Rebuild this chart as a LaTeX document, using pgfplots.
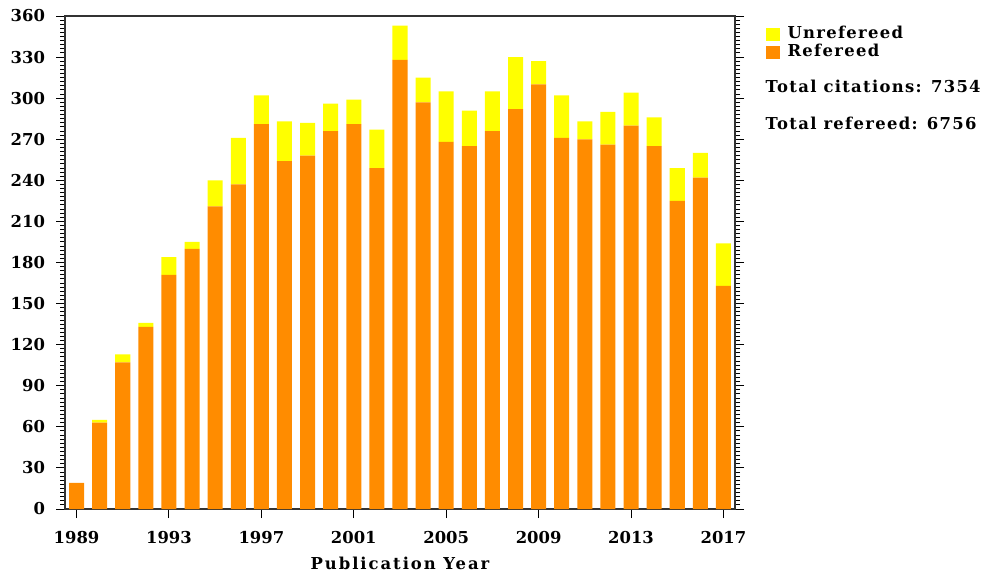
\documentclass[border=0pt]{standalone}
\usepackage{fontspec}
\setmainfont{DejaVu Serif}
\newfontfamily\spacedA[LetterSpace=8]{DejaVu Serif}
\newfontfamily\spacedB[LetterSpace=12]{DejaVu Serif}
\usepackage{pgfplots}
\usepackage{pgfplotstable}
\pgfplotsset{compat=1.18}
\definecolor{refc}{HTML}{FF8C00}
\definecolor{unrefc}{HTML}{FFFF00}
\definecolor{axgray}{HTML}{333333}
\newcommand\lf{\fontsize{8.2}{10}\selectfont\bfseries}
\newcommand\lfa{\spacedA\fontsize{8.2}{10}\selectfont\bfseries}
\newcommand\lfb{\spacedB\fontsize{8.2}{10}\selectfont\bfseries}

\pgfplotstableread{
year ref unref
1989 19 0
1990 63 2
1991 107 6
1992 133 3
1993 171 13
1994 190 5
1995 221 19
1996 237 34
1997 281 21
1998 254 29
1999 258 24
2000 276 20
2001 281 18
2002 249 28
2003 328 25
2004 297 18
2005 268 37
2006 265 26
2007 276 29
2008 292 38
2009 310 17
2010 271 31
2011 270 13
2012 266 24
2013 280 24
2014 265 21
2015 225 24
2016 242 18
2017 163 31
}\citedata

\begin{document}
\begin{tikzpicture}
\begin{axis}[
  at={(0,0)}, anchor=south west,
  scale only axis, width=335pt, height=246.5pt,
  ybar stacked, bar width=0.65,
  xmin=1988.5, xmax=2017.5, ymin=0, ymax=360,
  xtick={1989,1993,...,2017}, minor x tick num=3,
  ytick={0,30,...,360}, minor y tick num=9,
  xtick pos=lower, ytick pos=both,
  tick align=outside,
  major tick length=4.5pt, minor tick length=2.5pt,
  tick style={black, line width=0.5pt},
  axis line style={axgray, line width=1pt},
  /pgf/number format/assume math mode=true,
  xticklabel style={/pgf/number format/1000 sep={}, yshift=-3pt},
  yticklabel style={xshift=-2pt},
  ticklabel style={font=\lf},
  xlabel={Publication Year},
  xlabel style={font=\lfb, at={(rel axis cs:0.5,0)}, anchor=base, yshift=-30pt},
  clip=false,
  reverse legend,
  legend cell align=left,
  legend style={at={(rel axis cs:1.045,0.982)}, anchor=north west, draw=none, fill=none,
    font=\lfa, inner sep=0pt, row sep=0pt,
    nodes={inner sep=0pt, text height=6.6pt, text depth=2.6pt},
    /tikz/every odd column/.style={column sep=4pt}},
  legend image code/.code={\fill[#1] (0pt,-3.25pt) rectangle (7pt,3.25pt);},
]
\addplot[fill=refc, draw=none] table[x=year, y=ref] {\citedata};
\addplot[fill=unrefc, draw=none] table[x=year, y=unref] {\citedata};
\legend{Refereed, Unrefereed}
\node[anchor=base west, font=\lfa, inner sep=0pt] at (rel axis cs:1.045,0.844) {Total citations: 7354};
\node[anchor=base west, font=\lfa, inner sep=0pt] at (rel axis cs:1.045,0.769) {Total refereed: 6756};
\end{axis}
\pgfresetboundingbox
\path[use as bounding box] (-32.5pt,-32.5pt) rectangle (460pt,254.5pt);
\end{tikzpicture}
\end{document}
